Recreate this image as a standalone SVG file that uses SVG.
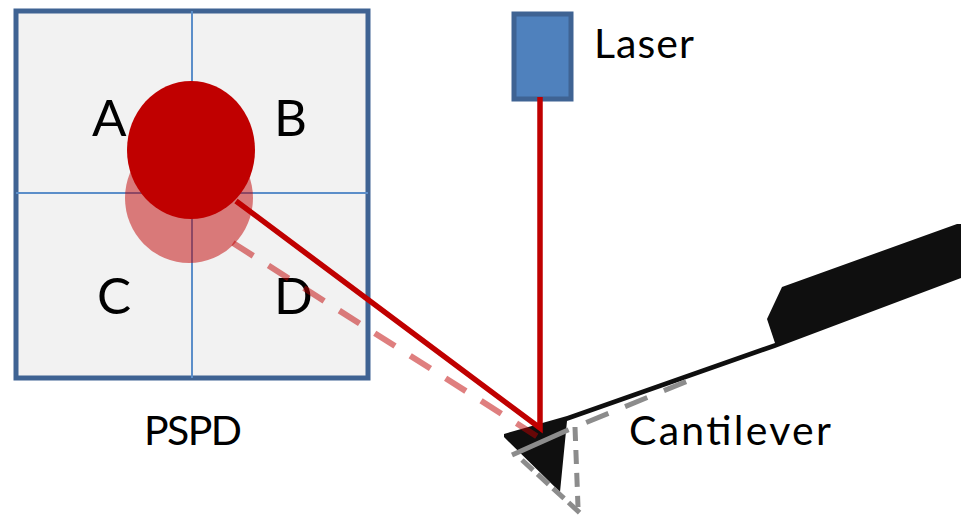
<svg xmlns="http://www.w3.org/2000/svg" width="961" height="515" viewBox="0 0 961 515">
<style>
text{font-family:Lato,"Liberation Sans",sans-serif;fill:#000}
.big{font-size:51px}
.mid{font-size:41px}
.grid{stroke:#5b8ec9;stroke-width:2;fill:none}
.gd{fill:none;stroke:#8c8c8c;stroke-width:5}
</style>
<rect width="961" height="515" fill="#fff"/>
<g id="pspd">
<rect x="16" y="11" width="352" height="367" fill="#f2f2f2" stroke="#3f6393" stroke-width="5"/>
<line class="grid" x1="192" y1="11" x2="192" y2="378"/>
<line class="grid" x1="16" y1="193" x2="368" y2="193"/>
<text class="big" x="92" y="136">A</text>
<text class="big" x="274" y="136">B</text>
<text class="big" x="97" y="314">C</text>
<text class="big" x="274" y="314">D</text>
<text class="mid" x="193" y="445" text-anchor="middle" textLength="98" lengthAdjust="spacing">PSPD</text>
</g>
<g id="spot-shifted"><ellipse cx="189" cy="198" rx="64" ry="65" fill="#c00000" fill-opacity=".5"/></g>
<g id="laser">
<rect x="514" y="14" width="57" height="85" fill="#4f81bd" stroke="#3f6393" stroke-width="5"/>
<text class="mid" x="594" y="58" textLength="100" lengthAdjust="spacing">Laser</text>
</g>
<g id="cantilever">
<path d="M504 434L567 416L775 343L767 319L782 287L957 224L961 224V278L775 348L567 421L560 492L504 437Z" fill="#0f0f0f"/>
<text class="mid" x="629" y="445" textLength="202" lengthAdjust="spacing">Cantilever</text>
</g>
<g id="connectors">
<path d="M233 243L538 437" fill="none" stroke="#c00000" stroke-opacity=".5" stroke-width="6" stroke-dasharray="24 18"/>
<path d="M540 97V428L236 201" fill="none" stroke="#c00000" stroke-width="5.5"/>
<path class="gd" d="M512 455L568 430L690 380" stroke-dasharray="62 19 24 18 24 18 24 18"/>
<path class="gd" d="M575 427L578 507" stroke-dasharray="14 9"/>
<path class="gd" d="M522 460L580 513" stroke-dasharray="15 6"/>
</g>
<g id="spot"><ellipse cx="191" cy="150" rx="64" ry="69" fill="#c00000"/></g>
</svg>
